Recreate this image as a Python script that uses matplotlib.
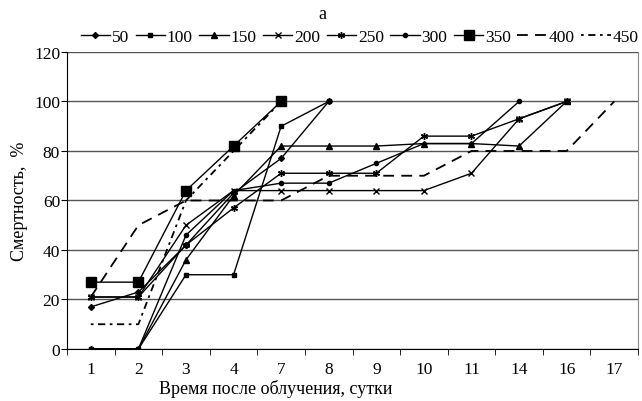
import numpy as np
import matplotlib.pyplot as plt

plt.rcParams['font.family'] = ['Liberation Serif', 'DejaVu Serif']

days = ['1', '2', '3', '4', '7', '8', '9', '10', '11', '14', '16', '17']

s50 = [17, 23, 42, 63, 77, 100]
s100 = [0, 0, 30, 30, 90, 100]
s150 = [0, 0, 36, 62, 82, 82, 82, 83, 83, 82, 100]
s200 = [21, 21, 50, 64, 64, 64, 64, 64, 71, 93, 100]
s250 = [21, 21, 42, 57, 71, 71, 71, 86, 86, 93, 100]
s300 = [0, 0, 46, 64, 67, 67, 75, 83, 83, 100]
s350 = [27, 27, 64, 82, 100]
s400 = [21, 50, 60, 60, 60, 70, 70, 70, 80, 80, 80, 100]
s450 = [10, 10, 60, 80, 100]

labels = ['50', '100', '150', '200', '250', '300', '350', '400', '450']
series = [s50, s100, s150, s200, s250, s300, s350, s400, s450]
styles = [
    dict(marker='D', ms=3, ls='-'),
    dict(marker='s', ms=3, ls='-'),
    dict(marker='^', ms=4, ls='-'),
    dict(marker='x', ms=4, ls='-', mew=1),
    dict(marker=(6, 2, 0), ms=5, ls='-', mew=1),
    dict(marker='o', ms=3, ls='-'),
    dict(marker='s', ms=7, ls='-'),
    dict(marker=None, ls=(0, (6, 4)), lw=1.3),
    dict(marker=None, ls=(0, (1.5, 2.5, 4, 2.5)), lw=1.3),
]

fig = plt.figure(figsize=(6.42, 4.02), dpi=100)
ax = fig.add_axes([0.1044, 0.1294, 0.8894, 0.7388])

for lab, vals, st in zip(labels, series, styles):
    kw = dict(color='black', lw=1.0)
    kw.update(st)
    ax.plot(np.arange(len(vals)), vals, label=lab, **kw)

ax.set_xlim(-0.5, len(days) - 0.5)
ax.set_ylim(0, 120)
ax.set_yticks(range(0, 121, 20))
ax.yaxis.grid(True, color='#555555', lw=1)
ax.set_axisbelow(True)
ax.set_xticks(np.arange(len(days)))
ax.set_xticklabels(days)
ax.set_xticks(np.arange(len(days) + 1) - 0.5, minor=True)
ax.tick_params(axis='x', which='major', length=0, pad=9, labelsize=12.5)
ax.tick_params(axis='x', which='minor', length=4, direction='out')
ax.tick_params(axis='y', length=4, direction='out', labelsize=12.5, pad=1)
ax.spines['top'].set_visible(False)
ax.spines['right'].set_color('#888888')

fig.text(0.43, 0.033, 'Время после облучения, сутки', ha='center', va='center', fontsize=13)
fig.text(0.03, 0.5, 'Смертность,  %', ha='center', va='center', rotation=90, fontsize=13)
fig.text(0.502, 0.965, 'a', ha='center', va='center', fontsize=13)

fig.legend(loc='center', bbox_to_anchor=(0.56, 0.905), ncol=9, frameon=False,
           fontsize=12.5, handlelength=1.7, handletextpad=0.1, columnspacing=0.37,
           borderaxespad=0, borderpad=0)

fig.savefig('out.png', dpi=100)
